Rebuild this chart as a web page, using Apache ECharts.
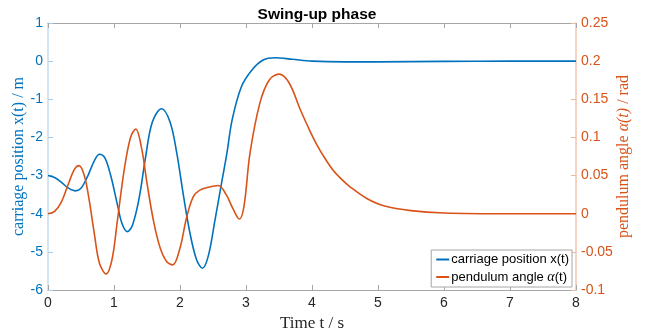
<!DOCTYPE html>
<html>
<head>
<meta charset="utf-8">
<script src="https://cdn.jsdelivr.net/npm/echarts@6/dist/echarts.min.js"></script>
<style>html,body{margin:0;padding:0;background:#fff}#c{width:646px;height:335px}</style>
</head>
<body>
<div id="c"></div>
<script>
// carriage position x(t) [m]
const posT = [0, 0.1, 0.2, 0.3, 0.41, 0.5, 0.6, 0.7, 0.78, 0.86, 0.95, 1.05, 1.12, 1.2, 1.28, 1.38, 1.48, 1.58, 1.72, 1.85, 1.95, 2.05, 2.15, 2.25, 2.34, 2.43, 2.53, 2.62, 2.71, 2.79, 2.93, 3.09, 3.26, 3.44, 3.7, 4.0, 4.5, 5.0, 6.0, 7.0, 8.0];
const posX = [-3.00, -3.05, -3.17, -3.32, -3.40, -3.33, -3.02, -2.62, -2.44, -2.53, -3.0, -3.75, -4.25, -4.47, -4.3, -3.6, -2.5, -1.6, -1.25, -1.6, -2.4, -3.5, -4.5, -5.2, -5.43, -5.1, -4.17, -3.29, -2.42, -1.54, -0.67, -0.23, 0.03, 0.09, 0.05, 0.0, -0.02, -0.02, -0.005, 0, 0];
// pendulum angle alpha(t) [rad]
const angT = [0, 0.1, 0.2, 0.3, 0.4, 0.47, 0.55, 0.62, 0.7, 0.78, 0.88, 0.97, 1.05, 1.15, 1.25, 1.33, 1.42, 1.5, 1.6, 1.7, 1.8, 1.89, 2.0, 2.1, 2.2, 2.3, 2.45, 2.58, 2.7, 2.8, 2.9, 2.97, 3.06, 3.21, 3.35, 3.5, 3.65, 3.82, 3.95, 4.07, 4.2, 4.32, 4.45, 4.58, 4.83, 5.1, 5.5, 6.0, 7.0, 8.0];
const angA = [0, 0.003, 0.015, 0.037, 0.058, 0.063, 0.05, 0.02, -0.025, -0.065, -0.079, -0.06, -0.01, 0.055, 0.1, 0.111, 0.085, 0.04, -0.01, -0.045, -0.063, -0.067, -0.045, -0.005, 0.022, 0.031, 0.035, 0.037, 0.025, 0.007, -0.007, 0.01, 0.079, 0.145, 0.175, 0.183, 0.172, 0.137, 0.112, 0.091, 0.072, 0.057, 0.045, 0.035, 0.020, 0.010, 0.004, 0.001, 0, 0];

const xTicks = {min: 0, max: 8, interval: 1};
const leftTicks = {min: -6, max: 1, interval: 1};
const rightTicks = {min: -0.1, max: 0.25, interval: 0.05};

const names = ['carriage position x(t)', 'pendulum angle α(t)'];
const blue = '#0072BD', orange = '#D95319';
const sans = 'Liberation Sans, Arial, sans-serif';
const serif = 'Liberation Serif, Times New Roman, serif';

const chart = echarts.init(document.getElementById('c'));
chart.setOption({
  animation: false,
  title: {
    text: 'Swing-up phase', left: 312, top: 2, textAlign: 'center',
    textStyle: {fontFamily: sans, fontSize: 15.5, fontWeight: 'bold', color: '#000'}
  },
  grid: {left: 48, right: 70, top: 23, bottom: 45, containLabel: false, outerBoundsMode: 'none'},
  legend: {
    data: names, orient: 'vertical', right: 74, bottom: 48,
    icon: 'rect', itemWidth: 13, itemHeight: 2, itemGap: 4,
    borderColor: '#a6a6a6', borderWidth: 1, backgroundColor: '#fff',
    padding: [3, 3, 3, 5],
    textStyle: {fontFamily: sans, fontSize: 13, color: '#000', padding: [0, 0, 0, -3],
      rich: {n: {fontFamily: sans, fontSize: 13, color: '#000'},
             i: {fontFamily: serif, fontStyle: 'italic', fontSize: 14, color: '#000'}}},
    formatter: function (n) { return n === names[1] ? '{n|pendulum angle }{i|α}{n|(t)}' : n; }
  },
  xAxis: [{
    type: 'value', min: xTicks.min, max: xTicks.max, interval: xTicks.interval,
    name: 'Time t / s', nameLocation: 'middle', nameGap: 24,
    nameTextStyle: {fontFamily: serif, fontSize: 17, color: '#262626'},
    axisLine: {show: true, onZero: false, lineStyle: {color: '#a6a6a6', width: 1}},
    axisTick: {show: true, inside: true, length: 5, lineStyle: {color: '#a6a6a6'}},
    axisLabel: {fontFamily: sans, fontSize: 14, color: '#262626', margin: 6},
    splitLine: {show: false}
  }, {
    type: 'value', position: 'top', min: xTicks.min, max: xTicks.max, interval: xTicks.interval,
    axisLine: {show: true, onZero: false, lineStyle: {color: '#a6a6a6', width: 1}},
    axisTick: {show: true, inside: true, length: 5, lineStyle: {color: '#a6a6a6'}},
    axisLabel: {show: false}, splitLine: {show: false}
  }],
  yAxis: [{
    type: 'value', position: 'left', min: leftTicks.min, max: leftTicks.max, interval: leftTicks.interval,
    name: 'carriage position x(t) / m', nameLocation: 'middle', nameRotate: 90, nameGap: 21,
    nameMoveOverlap: false,
    nameTextStyle: {fontFamily: serif, fontSize: 16, color: blue},
    axisLine: {show: true, onZero: false, lineStyle: {color: '#c3dcf0', width: 1.5}},
    axisTick: {show: true, inside: true, length: 5, lineStyle: {color: '#a9cde9'}},
    axisLabel: {fontFamily: sans, fontSize: 14, color: blue, margin: 5},
    splitLine: {show: false}
  }, {
    type: 'value', position: 'right', min: rightTicks.min, max: rightTicks.max, interval: rightTicks.interval,
    name: '{a|pendulum angle }{i|α(t)}{a| / rad}', nameLocation: 'middle', nameRotate: 90, nameGap: 40,
    nameMoveOverlap: false,
    nameTextStyle: {color: orange, rich: {
      a: {fontFamily: serif, fontSize: 16, color: orange},
      i: {fontFamily: serif, fontStyle: 'italic', fontSize: 16, color: orange}}},
    axisLine: {show: true, onZero: false, lineStyle: {color: '#f2c4ae', width: 1.5}},
    axisTick: {show: true, inside: true, length: 5, lineStyle: {color: '#efb89e'}},
    axisLabel: {fontFamily: sans, fontSize: 14, color: orange, margin: 5,
      formatter: function (v) { return String(+v.toFixed(2)); }},
    splitLine: {show: false}
  }],
  series: [{
    name: names[0], type: 'line', xAxisIndex: 0, yAxisIndex: 0, smooth: 0.35, showSymbol: false,
    lineStyle: {color: blue, width: 1.6}, itemStyle: {color: blue},
    data: posT.map((t, i) => [t, posX[i]])
  }, {
    name: names[1], type: 'line', xAxisIndex: 0, yAxisIndex: 1, smooth: 0.35, showSymbol: false,
    lineStyle: {color: orange, width: 1.6}, itemStyle: {color: orange},
    data: angT.map((t, i) => [t, angA[i]])
  }]
});
</script>
</body>
</html>
